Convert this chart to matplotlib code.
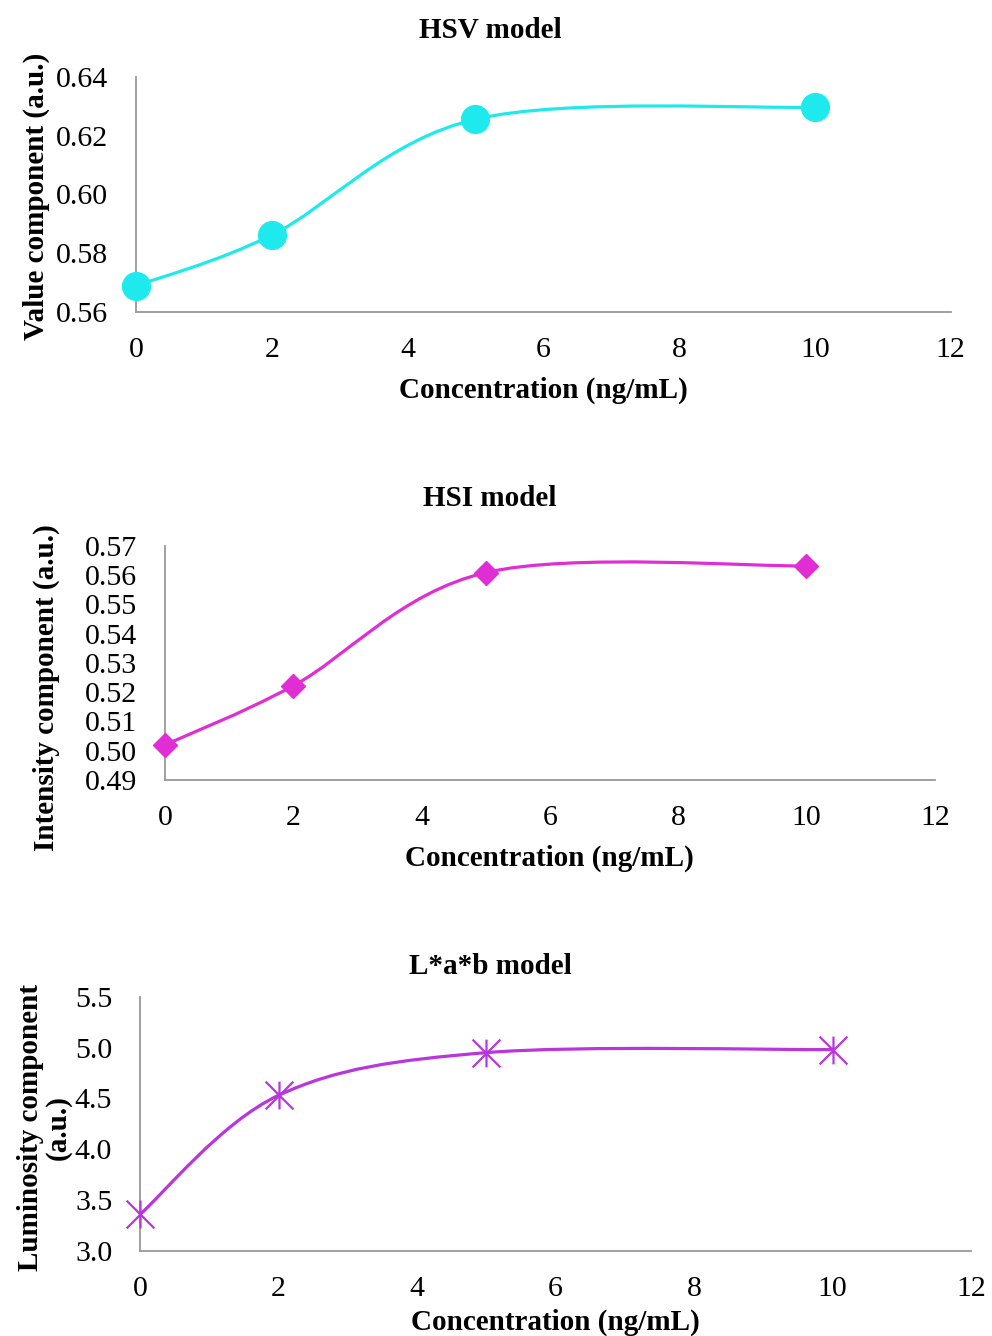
"""Colour-component response vs concentration for three colour models."""

import matplotlib

matplotlib.use("Agg")

import matplotlib.pyplot as plt
import numpy as np
from matplotlib.patches import PathPatch
from matplotlib.path import Path

plt.rcParams["font.family"] = ["Liberation Serif", "DejaVu Serif"]

concentration = [0, 2, 5, 10]
hsv_value = [0.5688, 0.5861, 0.6256, 0.6297]
hsi_intensity = [0.5020, 0.5222, 0.5609, 0.5632]
lab_luminosity = [3.36, 4.53, 4.95, 4.98]

x_ticks = [0, 2, 4, 6, 8, 10, 12]
hsv_ticks = [0.56, 0.58, 0.60, 0.62, 0.64]
hsi_ticks = [0.49, 0.50, 0.51, 0.52, 0.53, 0.54, 0.55, 0.56, 0.57]
lab_ticks = [3.0, 3.5, 4.0, 4.5, 5.0, 5.5]

AXIS_GREY = "#999999"
TICK_SIZE = 21.5
LABEL_SIZE = 21


def smooth_path(xs, ys):
    # Excel-style smoothed line: cubic Bezier segments with Catmull-Rom handles
    pts = np.column_stack([xs, ys]).astype(float)
    padded = np.vstack([pts[0], pts, pts[-1]])
    verts = [pts[0]]
    codes = [Path.MOVETO]
    for i in range(len(pts) - 1):
        p0, p1, p2, p3 = padded[i], padded[i + 1], padded[i + 2], padded[i + 3]
        verts += [p1 + (p2 - p0) / 6, p2 - (p3 - p1) / 6, p2]
        codes += [Path.CURVE4] * 3
    return Path(verts, codes)


def style_axes(ax, yticks, fmt, xlabel_pad):
    for side in ("top", "right"):
        ax.spines[side].set_visible(False)
    for side in ("left", "bottom"):
        ax.spines[side].set_color(AXIS_GREY)
        ax.spines[side].set_linewidth(1.3)
    ax.set_xlim(0, 12)
    ax.set_xticks(x_ticks)
    ax.set_ylim(yticks[0], yticks[-1])
    ax.set_yticks(yticks)
    ax.set_yticklabels([fmt.format(t) for t in yticks])
    ax.tick_params(axis="both", length=0, labelsize=TICK_SIZE)
    ax.tick_params(axis="x", pad=18)
    ax.tick_params(axis="y", pad=20)
    ax.set_xlabel("Concentration (ng/mL)", fontsize=LABEL_SIZE, fontweight="bold",
                  labelpad=xlabel_pad)


def draw_series(ax, ys, color, **marker_kw):
    ax.add_patch(PathPatch(smooth_path(concentration, ys), facecolor="none",
                           edgecolor=color, linewidth=2.3, zorder=2))
    ax.plot(concentration, ys, linestyle="none", zorder=3, clip_on=False, **marker_kw)


fig = plt.figure(figsize=(9.92, 13.36), dpi=100)

# HSV
ax1 = fig.add_axes([0.1371, 0.7667, 0.8213, 0.1757])
style_axes(ax1, hsv_ticks, "{:.2f}", 10)
draw_series(ax1, hsv_value, "#1EEAEE", marker="o", markersize=20,
            markerfacecolor="#1EEAEE", markeredgecolor="#1EEAEE")
ax1.set_ylabel("Value component (a.u.)", fontsize=LABEL_SIZE, fontweight="bold")
ax1.yaxis.set_label_coords(-0.106, 0.49)
fig.text(0.494, 1 - 30 / 1336, "HSV model", ha="center", va="center",
         fontsize=LABEL_SIZE, fontweight="bold")

# HSI
ax2 = fig.add_axes([0.1663, 0.41617, 0.776, 0.17515])
style_axes(ax2, hsi_ticks, "{:.2f}", 10)
draw_series(ax2, hsi_intensity, "#E02ED4", marker="D", markersize=12.5,
            markerfacecolor="#E02ED4", markeredgecolor="#E02ED4", markeredgewidth=1)
ax2.set_ylabel("Intensity component (a.u.)", fontsize=LABEL_SIZE, fontweight="bold")
ax2.yaxis.set_label_coords(-0.137, 0.395)
fig.text(0.494, 1 - 499 / 1336, "HSI model", ha="center", va="center",
         fontsize=LABEL_SIZE, fontweight="bold")

# L*a*b
star = Path([(-1, -1), (1, 1), (-1, 1), (1, -1), (0, -1), (0, 1)],
            [Path.MOVETO, Path.LINETO] * 3)
ax3 = fig.add_axes([0.1411, 0.06362, 0.8379, 0.19035])
style_axes(ax3, lab_ticks, "{:.1f}", 5)
draw_series(ax3, lab_luminosity, "#B836DC", marker=star, markersize=20,
            markerfacecolor="none", markeredgecolor="#B836DC", markeredgewidth=1.6)
ax3.set_ylabel("Luminosity component\n(a.u.)", fontsize=LABEL_SIZE, fontweight="bold",
               linespacing=1.0)
ax3.yaxis.set_label_coords(-0.082, 0.486)
fig.text(0.494, 1 - 967 / 1336, "L*a*b model", ha="center", va="center",
         fontsize=LABEL_SIZE, fontweight="bold")

fig.savefig("out.png", dpi=100)
plt.close(fig)
